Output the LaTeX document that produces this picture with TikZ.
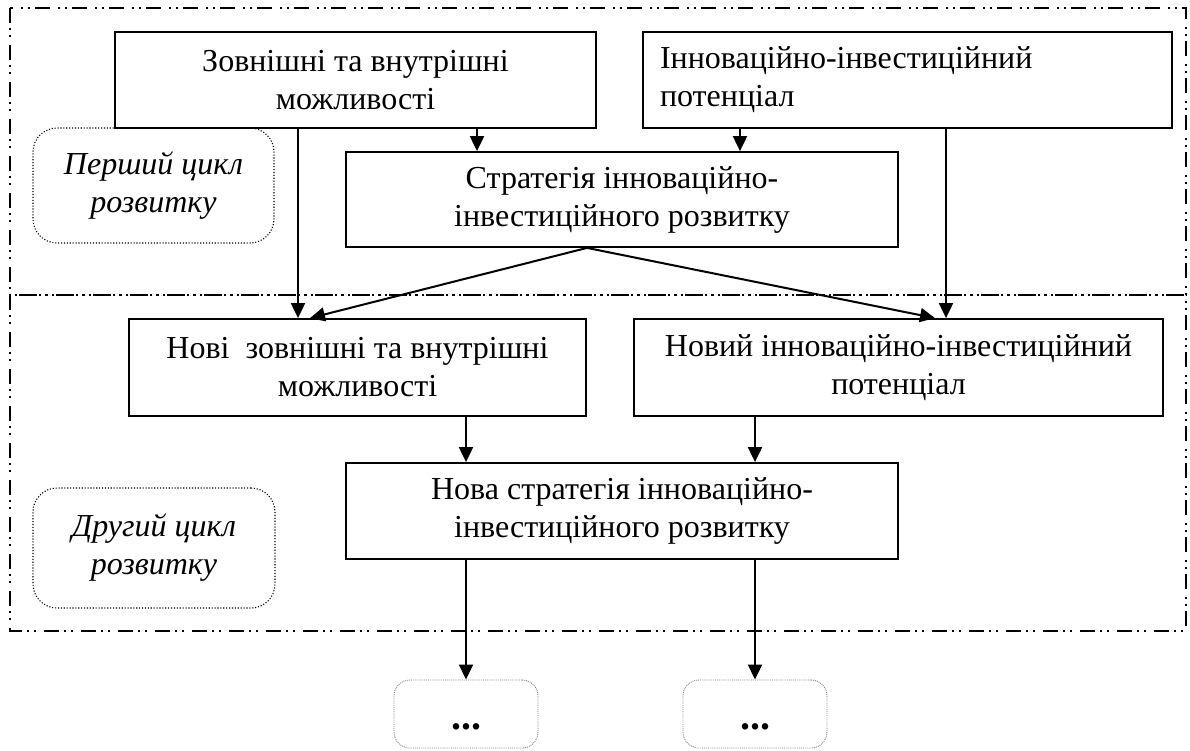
\documentclass[tikz,border=0pt]{standalone}
\usepackage{fontspec}
\setmainfont{Liberation Serif}
\usetikzlibrary{arrows.meta,calc}
\tikzset{
  box/.style={draw=black, line width=1.8pt, inner sep=0pt, align=center, font=\fontsize{32}{38}\selectfont},
  cyclebox/.style={draw=black, line width=1.1pt, dash pattern=on 1.1pt off 1.8pt, rounded corners=24pt, inner sep=0pt, align=center, font=\fontsize{32}{38}\selectfont\itshape},
  dotbox/.style={draw=gray, line width=0.9pt, densely dotted, rounded corners=16pt, inner sep=0pt, text height=30pt, text depth=0pt, font=\fontsize{40}{44}\selectfont\bfseries},
  frame/.style={draw=black, line width=1.6pt, dash pattern=on 15pt off 5pt on 2pt off 5pt on 2pt off 8pt},
  arr/.style={draw=black, line width=2pt, -{Triangle[length=15pt,width=14pt]}},
}
\begin{document}
\begin{tikzpicture}[x=1pt,y=-1pt]
\useasboundingbox (0,0) rectangle (1190,751);
% frames
\draw[frame] (10,8) rectangle (1186,295);
\draw[frame] (10,295) rectangle (1186,631);
% boxes
\node[box, minimum width=481pt, minimum height=96pt] (zb) at (355.5,80) {Зовнішні та внутрішні\\можливості};
\node[box, minimum height=96pt, inner xsep=17pt, text width=495pt, align=left] (ip) at (907.5,80) {Інноваційно-інвестиційний\\потенціал};
\node[box, minimum width=552pt, minimum height=95pt] (st) at (622,199.5) {Стратегія інноваційно-\\інвестиційного розвитку};
\node[box, minimum width=457pt, minimum height=97pt] (nz) at (357.5,367.5) {Нові\ \ зовнішні та внутрішні\\можливості};
\node[box, minimum width=529pt, minimum height=97pt] (ni) at (898.5,367.5) {Новий інноваційно-інвестиційний\\потенціал};
\node[box, minimum width=552pt, minimum height=96pt] (ns) at (622,511) {Нова стратегія інноваційно-\\інвестиційного розвитку};
\node[cyclebox, minimum width=241pt, minimum height=115pt] (c1) at (153.5,185.5) {Перший цикл\\розвитку};
\node[cyclebox, minimum width=242pt, minimum height=120pt] (c2) at (154,548) {Другий цикл\\розвитку};
\node[dotbox, minimum width=144pt, minimum height=68pt] (d1) at (466,714) {...};
\node[dotbox, minimum width=144pt, minimum height=68pt] (d2) at (755,714) {...};
% helper x positions
\coordinate (xa) at (298,0);
\coordinate (xb) at (477,0);
\coordinate (xc) at (740,0);
\coordinate (xd) at (946,0);
\coordinate (xe) at (587,0);
\coordinate (xf) at (310,0);
\coordinate (xg) at (935,0);
% connectors
\draw[arr] (zb.south -| xa) -- (nz.north -| xa);
\draw[arr] (zb.south -| xb) -- (st.north -| xb);
\draw[arr] (ip.south -| xc) -- (st.north -| xc);
\draw[arr] (ip.south -| xd) -- (ni.north -| xd);
\draw[arr] (st.south -| xe) -- (nz.north -| xf);
\draw[arr] (st.south -| xe) -- (ni.north -| xg);
\draw[arr] (nz.south -| d1.north) -- (ns.north -| d1.north);
\draw[arr] (ni.south -| d2.north) -- (ns.north -| d2.north);
\draw[arr] (ns.south -| d1.north) -- (d1.north);
\draw[arr] (ns.south -| d2.north) -- (d2.north);
\end{tikzpicture}
\end{document}
